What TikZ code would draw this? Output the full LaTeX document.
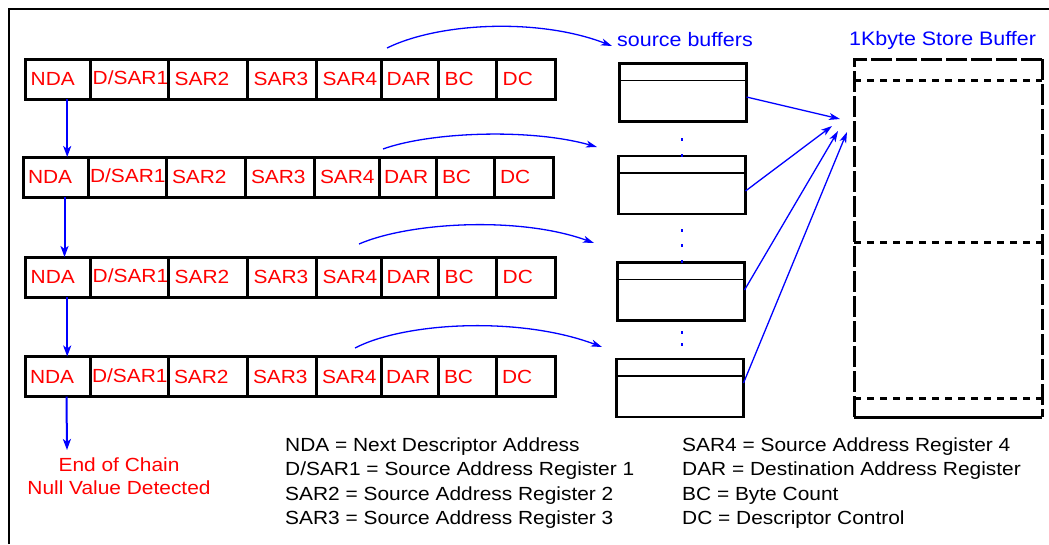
\documentclass[tikz,border=0pt]{standalone}
\usepackage{fontspec}
\setmainfont{Liberation Sans}[FakeStretch=1.1]
\usetikzlibrary{positioning,arrows.meta}

\begin{document}
\begin{tikzpicture}[x=1pt, y=-1pt,
cell/.style={rectangle, draw=black, line width=3pt, minimum height=40pt, inner xsep=5pt, inner ysep=0pt, outer sep=0pt, anchor=west, text=red, align=left, font=\fontsize{19}{22}\selectfont},
srcbuf/.style={rectangle, draw=black, line width=2.6pt, minimum width=127pt, minimum height=58pt, outer sep=0pt},
chain/.style={draw=blue, line width=2pt, -{Stealth[length=11pt, width=8pt, inset=3pt]}},
feed/.style={draw=blue, line width=1.3pt, -{Stealth[length=11pt, width=7pt, inset=3pt]}},
bluetext/.style={text=blue, anchor=west, inner sep=0pt, font=\fontsize{19.5}{22}\selectfont},
legend/.style={anchor=west, inner sep=0pt, align=left, font=\fontsize{19}{24.3}\selectfont},
]
\useasboundingbox (0,0) rectangle (1049,544);
% outer frame
\draw[line width=2pt] (9,544) -- (9,9) -- (1049,9);

% descriptor chain
\foreach \r/\y/\x in {1/79/25.7, 2/177/23, 3/277/25.7, 4/376.5/25} {
  \node[cell, text width=55pt] (nda\r) at (\x,\y) {NDA};
  \node[cell, text width=74pt, inner xsep=2pt] (dsar\r) at (nda\r.east) {\raisebox{2pt}{D/SAR1}};
  \node[cell, text width=67pt, inner xsep=6pt] (sartwo\r) at (dsar\r.east) {SAR2};
  \node[cell, text width=57pt, inner xsep=6pt] (sarthree\r) at (sartwo\r.east) {SAR3};
  \node[cell, text width=53pt, inner xsep=6pt] (sarfour\r) at (sarthree\r.east) {SAR4};
  \node[cell, text width=47pt] (dar\r) at (sarfour\r.east) {DAR};
  \node[cell, text width=46pt, inner xsep=6pt] (bc\r) at (dar\r.east) {BC};
  \node[cell, text width=47pt, inner xsep=6pt] (dc\r) at (bc\r.east) {DC};
}
\foreach \a/\b in {1/2, 2/3, 3/4}
  \draw[chain] ([xshift=9pt]nda\a.south) -- ([xshift=9pt]nda\a.south |- nda\b.north);

\node[text=red, align=center, inner sep=0pt, font=\fontsize{19}{23}\selectfont] (eoc) at (119,476) {End of Chain\\Null Value Detected};
\coordinate (eocin) at (67,450);
\draw[chain] ([xshift=9pt]nda4.south) -- (eocin);

% source buffers
\node[bluetext] (srclabel) at (617,40) {source buffers};
\node[srcbuf] (buf1) at (683,92.5) {};
\node[srcbuf] (buf2) at (682,185) {};
\node[srcbuf] (buf3) at (681,291.5) {};
\node[srcbuf] (buf4) at (680,388) {};
\foreach \b in {1,...,4}
  \draw[line width=1.6pt] ([yshift=-17pt]buf\b.north west) -- ([yshift=-17pt]buf\b.north east);
\foreach \yy in {138,154,229,244,260,331,343}
  \fill[blue] (681,\yy) rectangle (683,\yy+2.5);

% curved feeds from descriptors
\coordinate (s1) at (387,48);   \coordinate (e1) at (612,46);
\coordinate (s2) at (383,149);  \coordinate (e2) at (597,147);
\coordinate (s3) at (359,244);  \coordinate (e3) at (594,243);
\coordinate (s4) at (355,348);  \coordinate (e4) at (602,347);
\draw[feed] (s1) .. controls (440,22) and (540,18) .. (e1);
\draw[feed] (s2) .. controls (430,132) and (530,128) .. (e2);
\draw[feed] (s3) .. controls (410,222) and (520,216) .. (e3);
\draw[feed] (s4) .. controls (405,322) and (520,316) .. (e4);

% store buffer
\node[bluetext] (storelabel) at (849,40) {1Kbyte Store Buffer};
\coordinate (sbnw) at (854,59);
\coordinate (sbse) at (1042,417);
\draw[line width=3pt, dash pattern=on 21pt off 4pt] (sbnw -| sbse) -- (sbnw) -- (sbnw |- sbse);
\draw[line width=3pt, dash pattern=on 21pt off 4pt] (sbnw -| sbse) -- (sbse);
\draw[line width=3pt] (sbnw |- sbse) -- (sbse);
\foreach \yy in {80,242,398}
  \draw[line width=3pt, dash pattern=on 7pt off 6pt] (854,\yy) -- (1042,\yy);

\coordinate (t1) at (840,119);
\coordinate (t2) at (832,126);
\coordinate (t3) at (838,131);
\coordinate (t4) at (847,132);
\draw[feed] ([yshift=-4.5pt]buf1.east) -- (t1);
\draw[feed] ([yshift=-6pt]buf2.east) -- (t2);
\draw[feed] ([yshift=1.5pt]buf3.east) -- (t3);
\draw[feed] ([yshift=5pt]buf4.east) -- (t4);

% legend
\node[legend] (legl) at (285,483) {NDA = Next Descriptor Address\\D/SAR1 = Source Address Register 1\\SAR2 = Source Address Register 2\\SAR3 = Source Address Register 3};
\node[legend] (legr) at (682,483) {SAR4 = Source Address Register 4\\DAR = Destination Address Register\\BC = Byte Count\\DC = Descriptor Control};
\end{tikzpicture}
\end{document}
